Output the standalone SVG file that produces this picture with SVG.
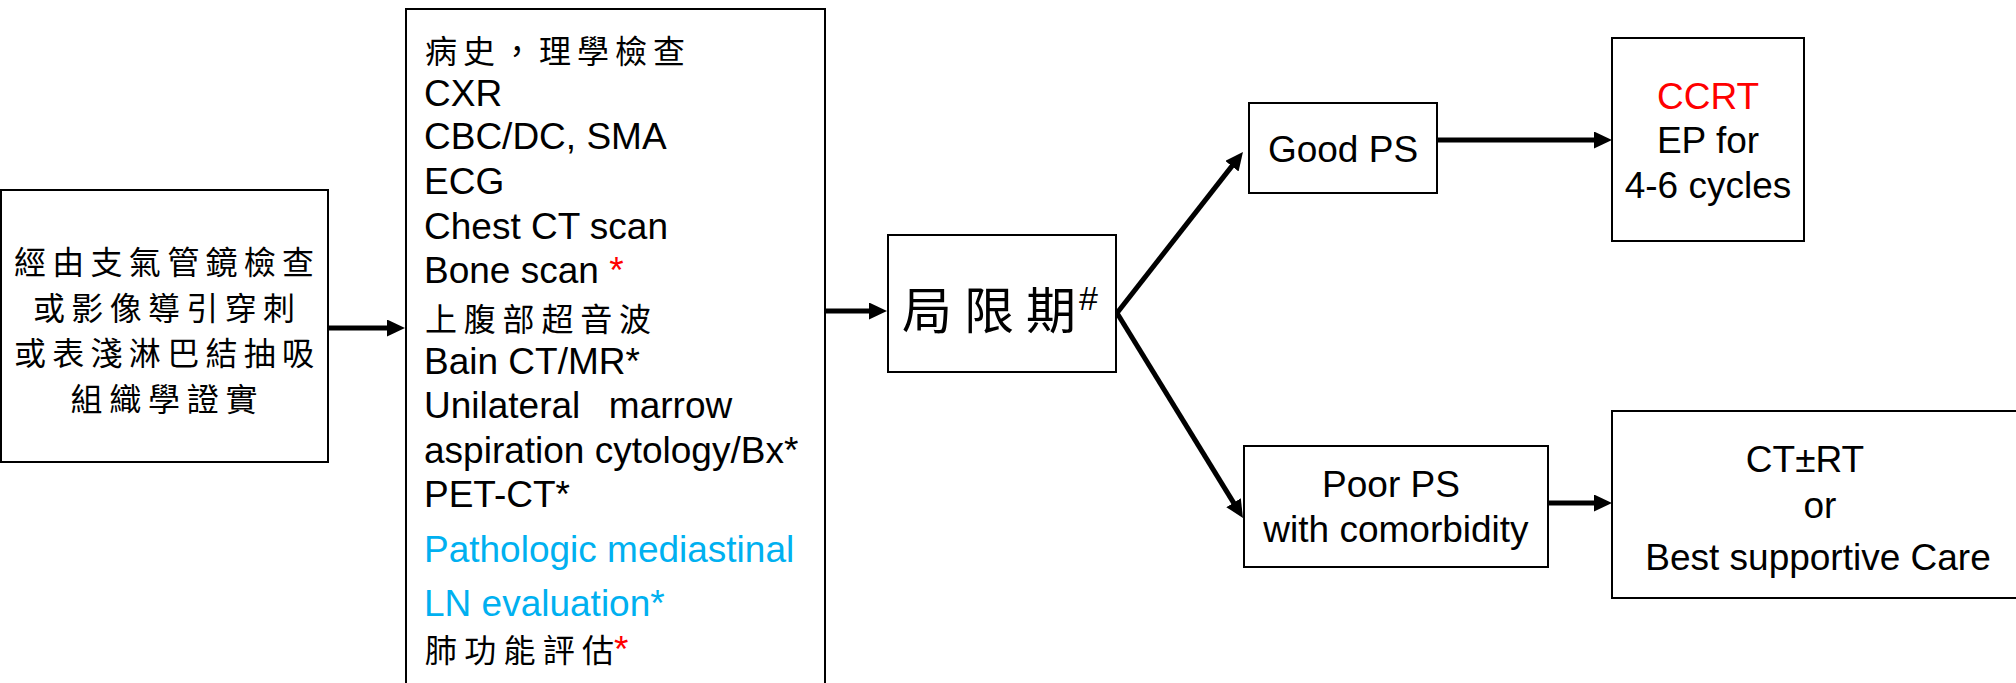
<svg xmlns="http://www.w3.org/2000/svg" width="2016" height="683" viewBox="0 0 2016 683">
<style>
.box{fill:#fff;stroke:#000;stroke-width:2}
.t{font-family:"Liberation Sans",Arial,sans-serif;font-size:37px;fill:#000}
.cjk{font-family:"Noto Sans CJK TC","Noto Sans CJK SC",sans-serif;font-size:32px;fill:#000}
.big{font-size:50px}
.red{fill:#FF0000}
.blue{fill:#00B0F0}
.c{text-anchor:middle}
.edge{stroke:#000;stroke-width:5;fill:none;marker-end:url(#ah)}
</style>
<defs>
<marker id="ah" markerUnits="userSpaceOnUse" markerWidth="20" markerHeight="18" refX="2" refY="8.5" orient="auto">
<path d="M0,0 L18,8.5 L0,17 Z" fill="#000"/>
</marker>
</defs>
<rect width="2016" height="683" fill="#fff"/>
<g id="connectors">
<line class="edge" x1="329" y1="328" x2="389" y2="328"/>
<line class="edge" x1="825" y1="311" x2="871" y2="311"/>
<line class="edge" x1="1117" y1="313" x2="1233.1" y2="164.6"/>
<line class="edge" x1="1117" y1="313" x2="1234.6" y2="504.4"/>
<line class="edge" x1="1437" y1="140" x2="1596" y2="140"/>
<line class="edge" x1="1548" y1="503" x2="1596" y2="503"/>
</g>
<g id="node-source">
<rect class="box" x="1" y="190" width="327" height="272"/>
<text class="cjk c" x="164" y="274" textLength="300" lengthAdjust="spacing">經由支氣管鏡檢查</text>
<text class="cjk c" x="164" y="320" textLength="262" lengthAdjust="spacing">或影像導引穿刺</text>
<text class="cjk c" x="164" y="365" textLength="300" lengthAdjust="spacing">或表淺淋巴結抽吸</text>
<text class="cjk c" x="164" y="411" textLength="187" lengthAdjust="spacing">組織學證實</text>
</g>
<g id="node-workup">
<rect class="box" x="406" y="9" width="419" height="700"/>
<text class="cjk" x="425" y="63" textLength="260" lengthAdjust="spacing">病史，理學檢查</text>
<text class="t" x="424" y="106">CXR</text>
<text class="t" x="424" y="149">CBC/DC, SMA</text>
<text class="t" x="424" y="194">ECG</text>
<text class="t" x="424" y="239">Chest CT scan</text>
<text class="t" x="424" y="283">Bone scan <tspan class="red">*</tspan></text>
<text class="cjk" x="425" y="331" textLength="226" lengthAdjust="spacing">上腹部超音波</text>
<text class="t" x="424" y="374">Bain CT/MR*</text>
<text class="t" x="424" y="418" xml:space="preserve">Unilateral  <tspan dx="8">marrow</tspan></text>
<text class="t" x="424" y="463">aspiration cytology/Bx*</text>
<text class="t" x="424" y="507">PET-CT*</text>
<text class="t blue" x="424" y="562">Pathologic mediastinal</text>
<text class="t blue" x="424" y="616">LN evaluation*</text>
<text class="cjk" x="425" y="662" textLength="189" lengthAdjust="spacing">肺功能評估</text>
<text class="t red" x="614" y="662">*</text>
</g>
<g id="node-limited">
<rect class="box" x="888" y="235" width="228" height="137"/>
<text class="cjk big" x="902" y="329" textLength="174" lengthAdjust="spacing">局限期</text>
<text class="t" x="1079" y="310" style="font-size:34px">#</text>
</g>
<g id="node-goodps">
<rect class="box" x="1249" y="103" width="188" height="90"/>
<text class="t c" x="1343" y="162">Good PS</text>
</g>
<g id="node-ccrt">
<rect class="box" x="1612" y="38" width="192" height="203"/>
<text class="t c red" x="1708" y="109">CCRT</text>
<text class="t c" x="1708" y="153">EP for</text>
<text class="t c" x="1708" y="198">4-6 cycles</text>
</g>
<g id="node-poorps">
<rect class="box" x="1244" y="446" width="304" height="121"/>
<text class="t c" x="1391" y="497">Poor PS</text>
<text class="t c" x="1396" y="542">with comorbidity</text>
</g>
<g id="node-ctrt">
<rect class="box" x="1612" y="411" width="420" height="187"/>
<text class="t c" x="1805" y="472">CT±RT</text>
<text class="t c" x="1820" y="518">or</text>
<text class="t c" x="1818" y="570">Best supportive Care</text>
</g>
</svg>
